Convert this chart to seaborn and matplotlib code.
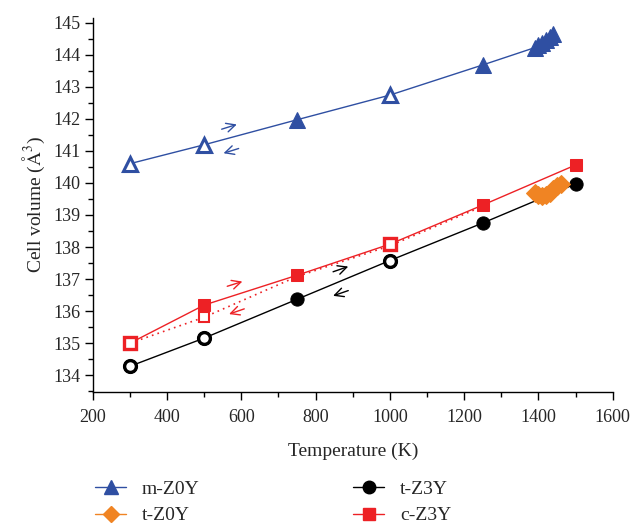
import matplotlib
matplotlib.use("Agg")
import matplotlib.pyplot as plt
import seaborn as sns
import pandas as pd
from matplotlib.ticker import MultipleLocator

# m-Z0Y
m_x = [300, 500, 750, 1000, 1250, 1390, 1400, 1410, 1420, 1430, 1440]
m_y = [140.6, 141.19, 141.97, 142.74, 143.68, 144.22, 144.3, 144.38, 144.46, 144.55, 144.66]
m_open = [300, 500, 1000]

# t-Z0Y
tz0_x = [1390, 1400, 1410, 1420, 1430, 1440, 1450, 1460]
tz0_y = [139.68, 139.62, 139.58, 139.63, 139.7, 139.8, 139.9, 139.98]

# t-Z3Y
t3_x = [300, 500, 750, 1000, 1250, 1500]
t3_y = [134.28, 135.16, 136.37, 137.58, 138.75, 139.97]
t3_open = [300, 500, 1000]

# c-Z3Y heating (solid) and cooling (dotted)
c_x = [300, 500, 750, 1000, 1250, 1500]
c_y = [135.0, 136.19, 137.12, 138.09, 139.31, 140.56]
c_cool_x = [300, 500, 750, 1000, 1250]
c_cool_y = [135.0, 135.81, 137.08, 138.04, 139.27]
c_open_x = [300, 500, 1000]
c_open_y = [135.0, 135.81, 138.09]

BLUE = "#2f4fa2"
ORANGE = "#f08423"
RED = "#ed2125"
BLACK = "#000000"

sns.set_style("ticks")
plt.rcParams['font.family'] = ['Liberation Serif', 'DejaVu Serif']
plt.rcParams['mathtext.fontset'] = 'stix'

fig = plt.figure(figsize=(6.35, 5.24), dpi=100)
ax = fig.add_axes([0.146, 0.252, 0.819, 0.714])

df_m = pd.DataFrame({"T": m_x, "V": m_y})
df_t0 = pd.DataFrame({"T": tz0_x, "V": tz0_y})
df_t3 = pd.DataFrame({"T": t3_x, "V": t3_y})
df_c = pd.DataFrame({"T": c_x, "V": c_y})
df_cc = pd.DataFrame({"T": c_cool_x, "V": c_cool_y})

sns.lineplot(data=df_m, x="T", y="V", ax=ax, color=BLUE, lw=1, marker="^",
             markersize=11, markeredgecolor=BLUE, sort=False, estimator=None)
sns.lineplot(data=df_t3, x="T", y="V", ax=ax, color=BLACK, lw=1, marker="o",
             markersize=9.5, markeredgecolor=BLACK, sort=False, estimator=None)
sns.lineplot(data=df_cc, x="T", y="V", ax=ax, color=RED, lw=1.2, ls=(0, (1, 2.5)),
             sort=False, estimator=None)
sns.lineplot(data=df_c, x="T", y="V", ax=ax, color=RED, lw=1, marker="s",
             markersize=9, markeredgecolor=RED, sort=False, estimator=None)
sns.lineplot(data=df_t0, x="T", y="V", ax=ax, color=ORANGE, lw=1, marker="D",
             markersize=9, markeredgecolor=ORANGE, sort=False, estimator=None)

# open (cooling) markers
mo = df_m[df_m["T"].isin(m_open)]
ax.plot(mo["T"], mo["V"], ls="none", marker="^", markersize=10, mfc="white",
        mec=BLUE, mew=2.2, zorder=5)
to = df_t3[df_t3["T"].isin(t3_open)]
ax.plot(to["T"], to["V"], ls="none", marker="o", markersize=8.5, mfc="white",
        mec=BLACK, mew=2.4, zorder=5)
ax.plot(c_open_x[:1] + c_open_x[2:], c_open_y[:1] + c_open_y[2:], ls="none",
        marker="s", markersize=9, mfc="white", mec=RED, mew=2.4, zorder=5)
ax.plot(c_open_x[1:2], c_open_y[1:2], ls="none", marker="s", markersize=6.5,
        mfc="white", mec=RED, mew=1.5, zorder=5)

# heating / cooling arrows
def arrow(x0, y0, x1, y1, col):
    ax.annotate("", xy=(x1, y1), xytext=(x0, y0),
                arrowprops=dict(arrowstyle="->", color=col, lw=1,
                                mutation_scale=16))

arrow(540, 141.65, 595, 141.85, BLUE)
arrow(600, 141.1, 545, 140.9, BLUE)
arrow(555, 136.75, 610, 136.95, RED)
arrow(615, 136.1, 560, 135.88, RED)
arrow(840, 137.2, 895, 137.42, BLACK)
arrow(895, 136.67, 840, 136.45, BLACK)

ax.set_xlim(200, 1600)
ax.set_ylim(133.48, 145.15)
ax.xaxis.set_major_locator(MultipleLocator(200))
ax.xaxis.set_minor_locator(MultipleLocator(100))
ax.yaxis.set_major_locator(MultipleLocator(1))
ax.yaxis.set_minor_locator(MultipleLocator(0.5))
ax.tick_params(which="major", length=6, width=1, labelsize=13, color="black")
ax.tick_params(which="minor", length=3.5, width=1, color="black")
ax.tick_params(axis="x", which="major", pad=6)
ax.tick_params(axis="y", which="major", pad=3)
for s in ["left", "bottom"]:
    ax.spines[s].set_color("black")
    ax.spines[s].set_linewidth(1)
sns.despine(ax=ax)

ax.set_xlabel("Temperature (K)", fontsize=14, labelpad=12)
ax.set_ylabel("Cell volume ($\\mathrm{\\AA}^3$)", fontsize=14)

handles = [
    plt.Line2D([], [], color=BLUE, marker="^", markersize=10, lw=1),
    plt.Line2D([], [], color=ORANGE, marker="D", markersize=8, lw=1),
    plt.Line2D([], [], color=BLACK, marker="o", markersize=9, lw=1),
    plt.Line2D([], [], color=RED, marker="s", markersize=8, lw=1),
]
labels = ["m-Z0Y", "t-Z0Y", "t-Z3Y", "c-Z3Y"]
fig.legend(handles, labels, ncol=2, frameon=False, fontsize=14,
           loc="upper left", bbox_to_anchor=(0.15, 0.083), columnspacing=7.9,
           handlelength=1.6, handletextpad=0.8, labelspacing=0.45,
           borderpad=0, borderaxespad=0)

fig.savefig("out.png", dpi=100)
